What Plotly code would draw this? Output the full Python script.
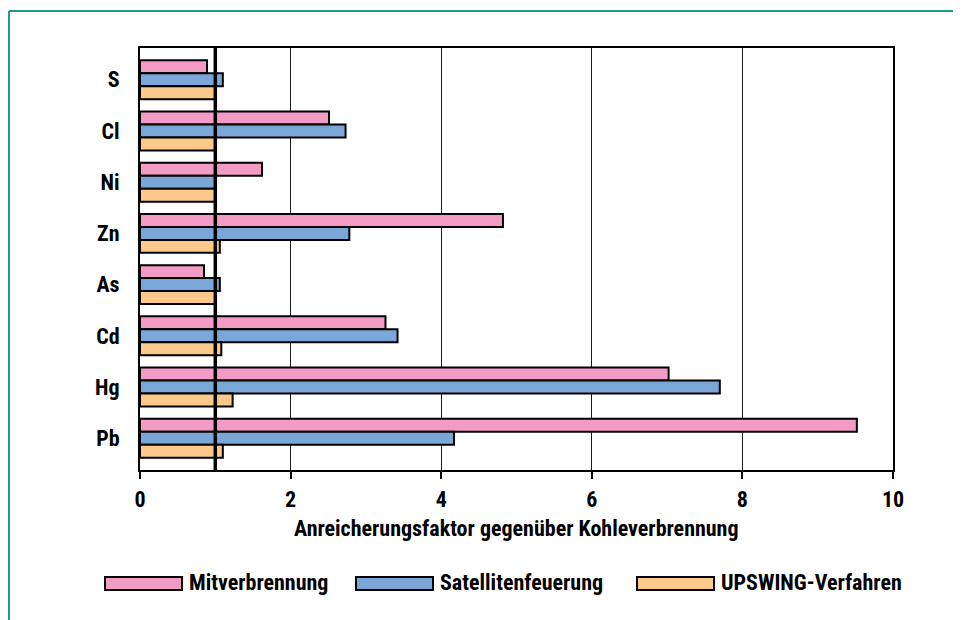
import plotly.graph_objects as go

# ---- data ----
elements = ["S", "Cl", "Ni", "Zn", "As", "Cd", "Hg", "Pb"]
mitverbrennung = [0.89, 2.51, 1.62, 4.82, 0.85, 3.26, 7.02, 9.52]
satellitenfeuerung = [1.10, 2.73, 1.00, 2.78, 1.06, 3.42, 7.70, 4.17]
upswing = [1.00, 1.00, 1.00, 1.06, 1.00, 1.08, 1.23, 1.10]
series_names = ["Mitverbrennung", "Satellitenfeuerung", "UPSWING-Verfahren"]
x_ticks = [0, 2, 4, 6, 8, 10]
x_title = "Anreicherungsfaktor gegenüber Kohleverbrennung"
reference_value = 1.0

colors = ["#F29BC4", "#7BA6D8", "#FDC98B"]
FONT = "Liberation Sans Narrow, Arial Narrow, Roboto Condensed, sans-serif"

# page has an 8px body margin -> shift everything by 8px
OFF = 8
W, H = 961 - OFF, 620 - OFF
L, T = 140 - OFF, 48 - OFF
PW, PH = 753, 422
R, B = W - L - PW, H - T - PH


def px(xp):
    # xp: absolute window pixel
    return (xp - OFF - L) / PW


def py(yp):
    return (T + PH - (yp - OFF)) / PH


fig = go.Figure()
for name, vals, col in zip(series_names, [mitverbrennung, satellitenfeuerung, upswing], colors):
    fig.add_trace(go.Bar(
        y=elements, x=vals, name=name, orientation="h",
        marker=dict(color=col, line=dict(color="black", width=2)),
        showlegend=False,
    ))

shapes = []
# reference line at x=1
shapes.append(dict(type="line", xref="x", yref="paper", x0=reference_value, x1=reference_value,
                   y0=0, y1=1, line=dict(color="black", width=3.5), layer="above"))
# teal frame (top and left edges only; the rest is outside the picture)
teal = "#1E9C8C"
shapes.append(dict(type="line", xref="paper", yref="paper", x0=px(9), x1=px(961),
                   y0=py(11), y1=py(11), line=dict(color=teal, width=2), layer="below"))
shapes.append(dict(type="line", xref="paper", yref="paper", x0=px(9), x1=px(9),
                   y0=py(11), y1=py(620), line=dict(color=teal, width=2), layer="below"))

annotations = []
annotations.append(dict(text=x_title, xref="paper", yref="paper", x=0.5, y=py(528),
                        xanchor="center", yanchor="middle", showarrow=False,
                        font=dict(family=FONT, size=22, color="black", weight="bold")))

# custom legend
legend_swatch_x = [105, 356, 637]
for name, col, sx in zip(series_names, colors, legend_swatch_x):
    shapes.append(dict(type="rect", xref="paper", yref="paper", x0=px(sx), x1=px(sx + 77),
                       y0=py(590), y1=py(577), fillcolor=col,
                       line=dict(color="black", width=2), layer="above"))
    annotations.append(dict(text=name, xref="paper", yref="paper", x=px(sx + 82), y=py(582),
                            xanchor="left", yanchor="middle", showarrow=False,
                            font=dict(family=FONT, size=22, color="black", weight="bold")))

fig.update_layout(
    width=W, height=H,
    margin=dict(l=L, r=R, t=T, b=B),
    paper_bgcolor="white", plot_bgcolor="white",
    barmode="group", bargap=0.24, bargroupgap=0,
    shapes=shapes, annotations=annotations,
    font=dict(family=FONT, size=22, color="black", weight="bold"),
    xaxis=dict(range=[0, 10], tickvals=x_ticks, ticktext=[str(t) for t in x_ticks],
               showgrid=True, gridcolor="#1a1a1a", gridwidth=1,
               zeroline=False, showline=True, linecolor="black", linewidth=2, mirror=True,
               ticks="outside", ticklen=7, tickwidth=2, tickcolor="black",
               ticklabelstandoff=2,
               tickfont=dict(family=FONT, size=22, color="black", weight="bold")),
    yaxis=dict(type="category", categoryorder="array", categoryarray=elements,
               range=[7.62, -0.62], showgrid=False, zeroline=False,
               showline=True, linecolor="black", linewidth=2, mirror=True,
               ticks="", ticklabelstandoff=14,
               tickfont=dict(family=FONT, size=22, color="black", weight="bold")),
)

fig.write_html("out.html")
